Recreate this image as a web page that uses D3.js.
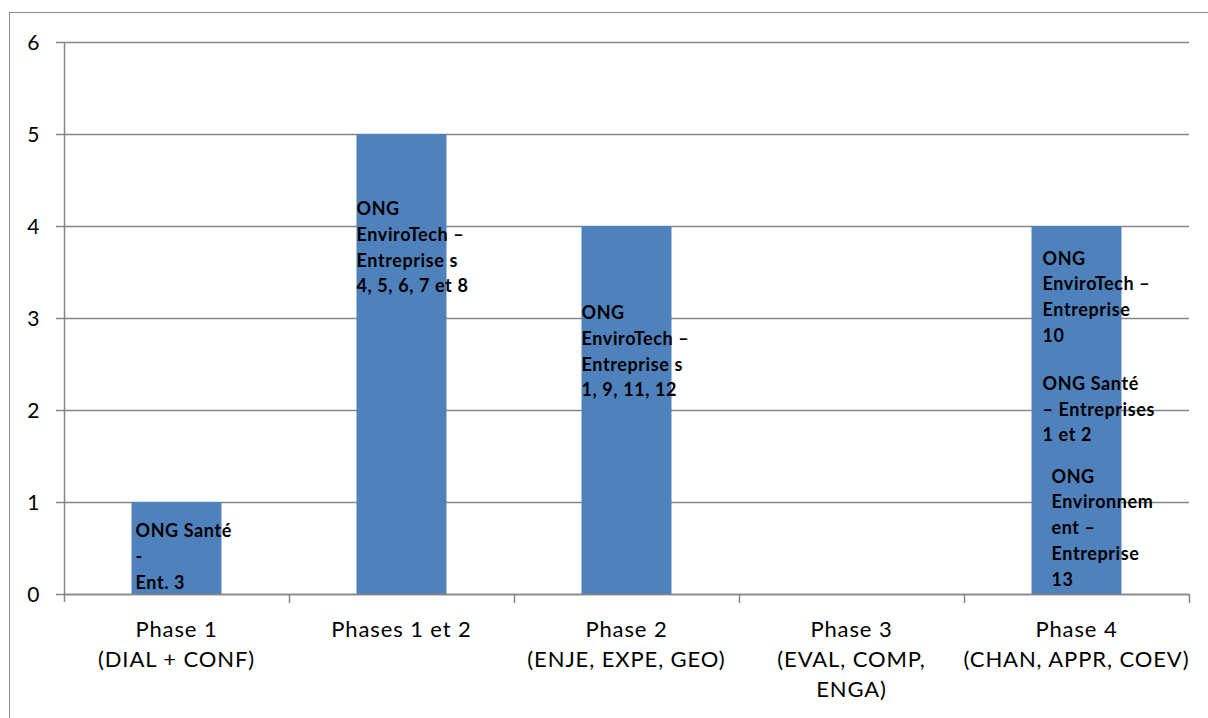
<!DOCTYPE html>
<html>
<head>
<meta charset="utf-8">
<script src="https://cdn.jsdelivr.net/npm/d3@7"></script>
<style>
  body { margin: 0; background: #fff; }
  text { font-family: Lato, "Open Sans", sans-serif; fill: #000; }
</style>
</head>
<body>
<script>
// data
let categories = ["Phase 1|(DIAL + CONF)", "Phases 1 et 2", "Phase 2|(ENJE, EXPE, GEO)", "Phase 3|(EVAL, COMP,|ENGA)", "Phase 4|(CHAN, APPR, COEV)"];
let values = [1, 5, 4, 0, 4];
let yTicks = [0, 1, 2, 3, 4, 5, 6];

// notes written inside the bars: category index, value at first baseline, lines
let noteCat = [0, 1, 2, 4, 4, 4];
let noteAt = [0.62, 4.12, 2.99, 3.58, 2.22, 1.21];
let noteIndent = [4, 0, 0, 11, 11, 20];
let noteLines = [
  ["ONG Santé", "-", "Ent. 3"],
  ["ONG", "EnviroTech –", "Entreprise s", "4, 5, 6, 7 et 8"],
  ["ONG", "EnviroTech –", "Entreprise s", "1, 9, 11, 12"],
  ["ONG", "EnviroTech –", "Entreprise", "10"],
  ["ONG Santé", "– Entreprises", "1 et 2"],
  ["ONG", "Environnem", "ent –", "Entreprise", "13"]
];

let w = 1208, h = 718;
let margin = {left: 64, top: 42, right: 19, bottom: 124};

let svg = d3.select("body").append("svg").attr("width", w).attr("height", h)

// outer frame of the chart area
svg.append("rect").attr("x", 9.5).attr("y", 12.5).attr("width", w + 20).attr("height", h + 20)
  .attr("fill", "none").attr("stroke", "#868686").attr("stroke-width", 1)

let x = d3.scaleBand().domain(d3.range(categories.length))
  .range([margin.left, w - margin.right]).paddingInner(0).paddingOuter(0)

let y = d3.scaleLinear().domain([0, 6]).range([h - margin.bottom, margin.top])

// gridlines + y ticks
svg.selectAll(".grid").data(yTicks).enter().append("line")
  .attr("x1", margin.left - 8).attr("x2", w - margin.right)
  .attr("y1", d => Math.round(y(d)) + 0.5).attr("y2", d => Math.round(y(d)) + 0.5)
  .attr("stroke", "#868686").attr("stroke-width", 1.5)

svg.selectAll(".ylab").data(yTicks).enter().append("text")
  .attr("x", 39.5).attr("y", d => y(d) + 7.5)
  .attr("text-anchor", "end").style("font-size", "21px")
  .text(d => d)

// y axis line
svg.append("line").attr("x1", margin.left + 0.5).attr("x2", margin.left + 0.5)
  .attr("y1", y(6)).attr("y2", y(0) + 8)
  .attr("stroke", "#868686").attr("stroke-width", 1.5)

// bars
let barW = x.bandwidth() * 0.4;
svg.selectAll(".bar").data(values).enter().append("rect")
  .attr("x", (d, i) => x(i) + (x.bandwidth() - barW) / 2)
  .attr("y", d => y(d)).attr("width", barW)
  .attr("height", d => y(0) - y(d))
  .attr("fill", "#4F81BD")

// x axis line and ticks
svg.append("line").attr("x1", margin.left).attr("x2", w - margin.right)
  .attr("y1", Math.round(y(0)) + 0.5).attr("y2", Math.round(y(0)) + 0.5)
  .attr("stroke", "#868686").attr("stroke-width", 1.5)

svg.selectAll(".xtick").data(d3.range(1, categories.length + 1)).enter().append("line")
  .attr("x1", d => Math.round(margin.left + d * x.bandwidth()) + 0.5)
  .attr("x2", d => Math.round(margin.left + d * x.bandwidth()) + 0.5)
  .attr("y1", y(0)).attr("y2", y(0) + 9)
  .attr("stroke", "#868686").attr("stroke-width", 1.5)

// category labels
let xl = svg.selectAll(".xlab").data(categories).enter().append("text")
  .attr("text-anchor", "middle").style("font-size", "22px").style("letter-spacing", "0.9px")
xl.each(function(d, i){
  let t = d3.select(this)
  d.split("|").forEach(function(line, j){
    t.append("tspan").attr("x", x(i) + x.bandwidth() / 2)
      .attr("y", y(0) + 43 + j * 30).text(line)
  })
})

// notes inside bars
noteLines.forEach(function(lines, k){
  let left = x(noteCat[k]) + (x.bandwidth() - barW) / 2 + noteIndent[k];
  let t = svg.append("text").style("font-size", "18px").style("font-weight", "bold")
    .style("letter-spacing", "0.6px")
  lines.forEach(function(line, j){
    t.append("tspan").attr("x", left).attr("y", y(noteAt[k]) + j * 25.8).text(line)
  })
})
</script>
</body>
</html>
